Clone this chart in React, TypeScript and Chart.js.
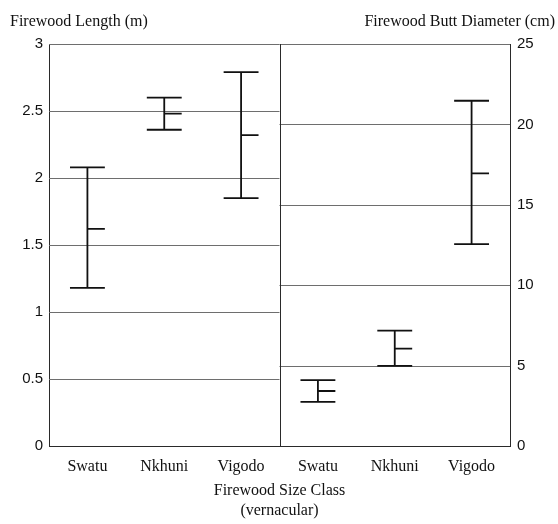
import React, { useEffect, useRef } from 'react';
import { Chart, registerables } from 'chart.js';

Chart.register(...registerables);

// ---- data ----
const CATEGORIES = ['Swatu', 'Nkhuni', 'Vigodo'];
const LENGTH_LOW = [1.18, 2.36, 1.85];
const LENGTH_MEAN = [1.62, 2.48, 2.32];
const LENGTH_HIGH = [2.08, 2.6, 2.79];
const DIAMETER_LOW = [2.75, 4.98, 12.56];
const DIAMETER_MEAN = [3.42, 6.05, 16.96];
const DIAMETER_HIGH = [4.1, 7.17, 21.47];
const LENGTH_TICKS = [0, 0.5, 1, 1.5, 2, 2.5, 3];
const DIAMETER_TICKS = [0, 5, 10, 15, 20, 25];
const X_LABELS = [...CATEGORIES, ...CATEGORIES];
const LEFT_TITLE = 'Firewood Length (m)';
const RIGHT_TITLE = 'Firewood Butt Diameter (cm)';
const X_TITLE = ['Firewood Size Class', '(vernacular)'];

// ---- style ----
const SERIF = "'Liberation Serif', 'Times New Roman', serif";
const SANS = "'Liberation Sans', Arial, sans-serif";
const AXIS_COLOR = '#2a2a2a';
const GRID_COLOR = '#6e6e6e';
const BAR_COLOR = '#111111';
const CAP = 0.227; // cap half-width in category units

function errorBarPoints(low: number[], mean: number[], high: number[], offset: number) {
  const pts: { x: number; y: number | null }[] = [];
  low.forEach((lo, i) => {
    const x = i + offset;
    const hi = high[i];
    const m = mean[i];
    pts.push(
      { x, y: lo }, { x, y: hi }, { x, y: null },
      { x: x - CAP, y: hi }, { x: x + CAP, y: hi }, { x, y: null },
      { x: x - CAP, y: lo }, { x: x + CAP, y: lo }, { x, y: null },
      { x, y: m }, { x: x + CAP, y: m }, { x, y: null }
    );
  });
  return pts;
}

const panelGrid = {
  id: 'panelGrid',
  beforeDatasetsDraw(chart: any) {
    const { ctx, chartArea, scales } = chart;
    const divider = scales.x.getPixelForValue(CATEGORIES.length - 0.5);
    ctx.save();
    ctx.lineWidth = 1;
    ctx.strokeStyle = GRID_COLOR;
    const drawSet = (scale: any, x0: number, x1: number) => {
      scale.ticks.forEach((t: any) => {
        if (t.value === scale.min) return;
        const y = Math.round(scale.getPixelForValue(t.value)) + 0.5;
        ctx.beginPath();
        ctx.moveTo(x0, y);
        ctx.lineTo(x1, y);
        ctx.stroke();
      });
    };
    drawSet(scales.y, chartArea.left, divider);
    drawSet(scales.y2, divider, chartArea.right);
    ctx.strokeStyle = AXIS_COLOR;
    const dx = Math.round(divider) + 0.5;
    ctx.beginPath();
    ctx.moveTo(dx, chartArea.top);
    ctx.lineTo(dx, chartArea.bottom);
    ctx.stroke();
    ctx.restore();
  },
};

export default function App() {
  const ref = useRef<HTMLCanvasElement | null>(null);

  useEffect(() => {
    if (!ref.current) return;
    const lineStyle = {
      borderColor: BAR_COLOR,
      borderWidth: 1.8,
      pointRadius: 0,
      pointHoverRadius: 0,
      tension: 0,
      spanGaps: false,
      fill: false,
    };
    const chart = new Chart(ref.current, {
      type: 'line',
      data: {
        datasets: [
          { ...lineStyle, label: 'Length', yAxisID: 'y', data: errorBarPoints(LENGTH_LOW, LENGTH_MEAN, LENGTH_HIGH, 0) },
          { ...lineStyle, label: 'Diameter', yAxisID: 'y2', data: errorBarPoints(DIAMETER_LOW, DIAMETER_MEAN, DIAMETER_HIGH, CATEGORIES.length) },
        ],
      },
      plugins: [panelGrid],
      options: {
        responsive: false,
        animation: false,
        events: [],
        layout: { padding: { left: 9, right: 0, top: 44, bottom: 0 } },
        plugins: {
          legend: { display: false },
          title: { display: false },
          tooltip: { enabled: false },
        },
        scales: {
          x: {
            type: 'linear',
            position: 'bottom',
            min: -0.5,
            max: X_LABELS.length - 0.5,
            afterBuildTicks: (s: any) => {
              s.ticks = X_LABELS.map((_, i) => ({ value: i }));
            },
            afterFit: (s: any) => {
              s.height = 78;
            },
            grid: { display: false, drawTicks: false },
            border: { display: true, color: AXIS_COLOR, width: 1 },
            ticks: {
              autoSkip: false,
              maxRotation: 0,
              padding: 11,
              color: '#111',
              font: { family: SERIF, size: 16 },
              callback: (_v: any, i: number) => X_LABELS[i],
            },
            title: {
              display: true,
              text: X_TITLE,
              color: '#111',
              font: { family: SERIF, size: 16, lineHeight: 1.25 },
              padding: { top: 0, bottom: 3 },
            },
          },
          y: {
            type: 'linear',
            position: 'left',
            min: 0,
            max: 3,
            afterBuildTicks: (s: any) => {
              s.ticks = LENGTH_TICKS.map((v) => ({ value: v }));
            },
            afterFit: (s: any) => {
              s.width = 40;
            },
            grid: { display: false, drawTicks: false },
            border: { display: true, color: AXIS_COLOR, width: 1 },
            ticks: {
              padding: 6,
              color: '#111',
              font: { family: SANS, size: 15 },
              callback: (v: any) => String(v),
            },
          },
          y2: {
            type: 'linear',
            position: 'right',
            min: 0,
            max: 25,
            afterBuildTicks: (s: any) => {
              s.ticks = DIAMETER_TICKS.map((v) => ({ value: v }));
            },
            afterFit: (s: any) => {
              s.width = 48;
            },
            grid: { display: false, drawTicks: false },
            border: { display: true, color: AXIS_COLOR, width: 1 },
            ticks: {
              padding: 7,
              color: '#111',
              font: { family: SANS, size: 15 },
              callback: (v: any) => String(v),
            },
          },
        },
      },
    } as any);
    return () => chart.destroy();
  }, []);

  const titleStyle: React.CSSProperties = {
    position: 'absolute',
    top: 11,
    fontFamily: SERIF,
    fontSize: 16,
    lineHeight: '20px',
    color: '#111',
    whiteSpace: 'nowrap',
  };

  return (
    <div style={{ position: 'absolute', left: 0, top: 0, width: 558, height: 524, background: '#fff' }}>
      <canvas ref={ref} width={558} height={524} style={{ display: 'block', position: 'absolute', left: 0, top: 0 }} />
      <div style={{ ...titleStyle, left: 10 }}>{LEFT_TITLE}</div>
      <div style={{ ...titleStyle, right: 3 }}>{RIGHT_TITLE}</div>
    </div>
  );
}
